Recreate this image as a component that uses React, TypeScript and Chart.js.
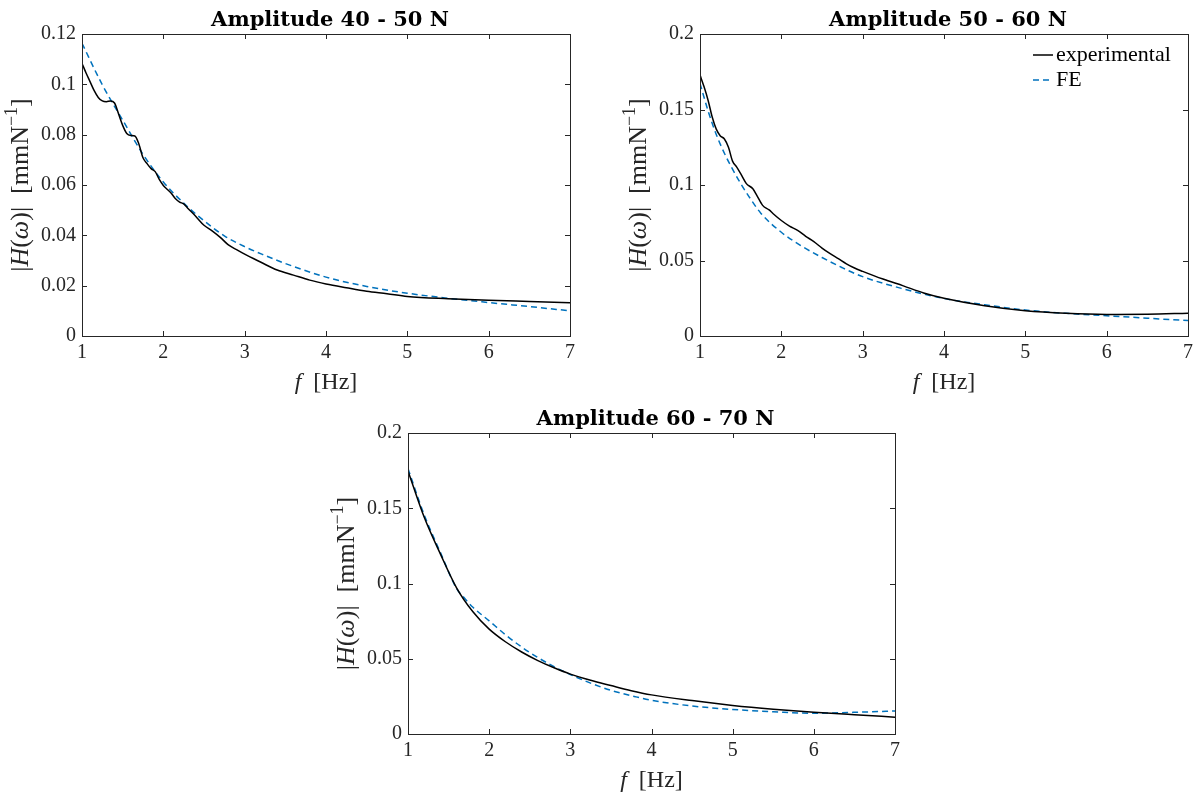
import React, { useEffect, useRef } from "react";
import { Chart, registerables } from "chart.js";

Chart.register(...registerables);

// ---------- tick values / labels ----------
const xTicks = [1, 2, 3, 4, 5, 6, 7];
const yTicksA = [0, 0.02, 0.04, 0.06, 0.08, 0.1, 0.12];
const yTicksB = [0, 0.05, 0.1, 0.15, 0.2];

const titles = ["Amplitude 40 - 50 N", "Amplitude 50 - 60 N", "Amplitude 60 - 70 N"];
const seriesNames = ["experimental", "FE"];

// ---------- panel 1 (40 - 50 N) ----------
const exp1F = [1.0, 1.05, 1.1, 1.15, 1.2, 1.25, 1.3, 1.35, 1.4, 1.45, 1.5, 1.55, 1.6, 1.65, 1.7, 1.75, 1.8, 1.85, 1.9, 1.95, 2.0, 2.05, 2.1, 2.15, 2.2, 2.25, 2.3, 2.4, 2.5, 2.6, 2.7, 2.8, 2.9, 3.0, 3.2, 3.4, 3.6, 3.8, 4.0, 4.25, 4.5, 4.75, 5.0, 5.5, 6.0, 6.5, 7.0];
const exp1H = [0.1083, 0.1045, 0.101, 0.0975, 0.0948, 0.0934, 0.0931, 0.0934, 0.0926, 0.0882, 0.0837, 0.0805, 0.0797, 0.0795, 0.0762, 0.0708, 0.0685, 0.0665, 0.0653, 0.0622, 0.0598, 0.0582, 0.0566, 0.0545, 0.0532, 0.0525, 0.0508, 0.0475, 0.044, 0.0418, 0.0392, 0.0362, 0.0343, 0.0325, 0.0293, 0.0262, 0.0242, 0.0222, 0.0207, 0.0192, 0.0178, 0.0168, 0.0157, 0.0148, 0.0142, 0.0137, 0.0132];
const fe1F = [1.0, 1.25, 1.5, 1.75, 2.0, 2.25, 2.5, 2.75, 3.0, 3.25, 3.5, 4.0, 4.5, 5.0, 5.5, 6.0, 6.5, 7.0];
const fe1H = [0.1163, 0.0998, 0.0858, 0.0722, 0.0612, 0.0528, 0.0458, 0.0398, 0.0355, 0.032, 0.0288, 0.0234, 0.0197, 0.017, 0.015, 0.0133, 0.0117, 0.01];

// ---------- panel 2 (50 - 60 N) ----------
const exp2F = [1.0, 1.05, 1.1, 1.15, 1.2, 1.25, 1.3, 1.35, 1.4, 1.45, 1.5, 1.57, 1.65, 1.7, 1.77, 1.85, 1.9, 2.0, 2.1, 2.2, 2.3, 2.4, 2.5, 2.6, 2.7, 2.8, 2.9, 3.0, 3.25, 3.5, 3.75, 4.0, 4.5, 5.0, 5.5, 6.0, 6.5, 7.0];
const exp2H = [0.1728, 0.165, 0.156, 0.145, 0.137, 0.1325, 0.1305, 0.125, 0.1158, 0.112, 0.1075, 0.1009, 0.0975, 0.093, 0.0865, 0.0835, 0.081, 0.0765, 0.0728, 0.07, 0.066, 0.0625, 0.0582, 0.0545, 0.0512, 0.0478, 0.045, 0.0428, 0.0377, 0.0332, 0.0285, 0.025, 0.02, 0.0167, 0.015, 0.0143, 0.0144, 0.0151];
const fe2F = [1.0, 1.1, 1.2, 1.3, 1.4, 1.5, 1.6, 1.75, 2.0, 2.25, 2.5, 2.75, 3.0, 3.5, 4.0, 4.5, 5.0, 5.5, 6.0, 6.5, 7.0];
const fe2H = [0.1673, 0.149, 0.1335, 0.121, 0.1105, 0.101, 0.0925, 0.0812, 0.0687, 0.0595, 0.052, 0.0452, 0.0393, 0.0312, 0.0248, 0.0207, 0.0172, 0.015, 0.0134, 0.0118, 0.0102];

// ---------- panel 3 (60 - 70 N) ----------
const exp3F = [1.0, 1.2, 1.4, 1.6, 1.8, 2.0, 2.2, 2.4, 2.6, 2.8, 3.0, 3.25, 3.5, 3.75, 4.0, 4.5, 5.0, 5.5, 6.0, 6.5, 7.0];
const exp3H = [0.1748, 0.144, 0.1195, 0.097, 0.0812, 0.0697, 0.0613, 0.0545, 0.0488, 0.044, 0.0398, 0.0357, 0.0322, 0.0288, 0.026, 0.0222, 0.019, 0.0165, 0.0145, 0.0128, 0.0112];
const fe3F = [1.0, 1.2, 1.4, 1.6, 1.7, 1.8, 2.0, 2.2, 2.4, 2.6, 2.8, 3.0, 3.25, 3.5, 3.8, 4.0, 4.5, 5.0, 5.5, 6.0, 6.5, 7.0];
const fe3H = [0.1764, 0.1455, 0.1205, 0.0965, 0.09, 0.0842, 0.0752, 0.066, 0.0578, 0.0508, 0.0447, 0.0395, 0.0338, 0.029, 0.0248, 0.0224, 0.0186, 0.0163, 0.0148, 0.0138, 0.0144, 0.0153];

// ---------- styling ----------
const AXIS_COLOR = "#262626";
const EXP_COLOR = "#000000";
const FE_COLOR = "#0072BD";
const XLABEL_SIZE = 24;
const YLABEL_SIZE = 26;
const TITLE_FONT = "bold 21px 'DejaVu Serif'";
const LEGEND_FONT = "22px 'Liberation Serif'";

type Part = { t: string; italic?: boolean; sup?: boolean };
const xLabelParts: Part[] = [{ t: "f", italic: true }, { t: "  [Hz]" }];
const yLabelParts: Part[] = [
  { t: "|" },
  { t: "H", italic: true },
  { t: "(" },
  { t: "ω", italic: true },
  { t: ")|" },
  { t: "  [mmN" },
  { t: "−1", sup: true },
  { t: "]" },
];

function partFont(p: Part, size: number) {
  const s = p.sup ? Math.round(size * 0.7) : size;
  return `${p.italic ? "italic " : ""}${s}px 'Liberation Serif'`;
}

function drawParts(ctx: CanvasRenderingContext2D, parts: Part[], cx: number, baseY: number, size: number) {
  let total = 0;
  const widths = parts.map((p) => {
    ctx.font = partFont(p, size);
    const w = ctx.measureText(p.t).width;
    total += w;
    return w;
  });
  let x = cx - total / 2;
  ctx.textAlign = "left";
  ctx.textBaseline = "alphabetic";
  parts.forEach((p, i) => {
    ctx.font = partFont(p, size);
    ctx.fillText(p.t, x, p.sup ? baseY - size * 0.42 : baseY);
    x += widths[i];
  });
}

type PanelCfg = {
  left: number;
  top: number;
  w: number;
  h: number;
  area: { l: number; t: number; r: number; b: number };
  title: string;
  yMax: number;
  yTicks: number[];
  expF: number[];
  expH: number[];
  feF: number[];
  feH: number[];
  legend: boolean;
};

const panels: PanelCfg[] = [
  { left: 0, top: 0, w: 600, h: 395, area: { l: 82, t: 34, r: 570, b: 336 }, title: titles[0], yMax: 0.12, yTicks: yTicksA, expF: exp1F, expH: exp1H, feF: fe1F, feH: fe1H, legend: false },
  { left: 600, top: 0, w: 599, h: 395, area: { l: 100, t: 34, r: 588, b: 336 }, title: titles[1], yMax: 0.2, yTicks: yTicksB, expF: exp2F, expH: exp2H, feF: fe2F, feH: fe2H, legend: true },
  { left: 300, top: 395, w: 620, h: 398, area: { l: 108, t: 38, r: 595, b: 339 }, title: titles[2], yMax: 0.2, yTicks: yTicksB, expF: exp3F, expH: exp3H, feF: fe3F, feH: fe3H, legend: false },
];

function fmt(v: number) {
  return String(Number(v.toFixed(4)));
}

function Panel({ cfg }: { cfg: PanelCfg }) {
  const ref = useRef<HTMLCanvasElement | null>(null);
  useEffect(() => {
    if (!ref.current) return;
    const a = cfg.area;
    const decor = {
      id: "decor",
      afterDraw(chart: any) {
        const ctx: CanvasRenderingContext2D = chart.ctx;
        const ca = chart.chartArea;
        const xs = chart.scales.x;
        const ys = chart.scales.y;
        ctx.save();
        ctx.strokeStyle = AXIS_COLOR;
        ctx.lineWidth = 1;
        ctx.setLineDash([]);
        ctx.strokeRect(ca.left + 0.5, ca.top + 0.5, ca.right - ca.left, ca.bottom - ca.top);
        const tl = 5;
        ctx.beginPath();
        xTicks.forEach((v) => {
          const px = Math.round(xs.getPixelForValue(v)) + 0.5;
          ctx.moveTo(px, ca.bottom);
          ctx.lineTo(px, ca.bottom - tl);
          ctx.moveTo(px, ca.top);
          ctx.lineTo(px, ca.top + tl);
        });
        cfg.yTicks.forEach((v) => {
          const py = Math.round(ys.getPixelForValue(v)) + 0.5;
          ctx.moveTo(ca.left, py);
          ctx.lineTo(ca.left + tl, py);
          ctx.moveTo(ca.right, py);
          ctx.lineTo(ca.right - tl, py);
        });
        ctx.stroke();

        ctx.fillStyle = "#000000";
        const cx = (ca.left + ca.right) / 2;
        // title
        ctx.font = TITLE_FONT;
        ctx.textAlign = "center";
        ctx.textBaseline = "alphabetic";
        ctx.fillText(cfg.title, cx + 4, ca.top - 8);
        // x label
        ctx.fillStyle = AXIS_COLOR;
        drawParts(ctx, xLabelParts, cx, ca.bottom + 53, XLABEL_SIZE);
        // y label
        ctx.save();
        ctx.translate(ca.left - 54, (ca.top + ca.bottom) / 2);
        ctx.rotate(-Math.PI / 2);
        drawParts(ctx, yLabelParts, 0, 0, YLABEL_SIZE);
        ctx.restore();

        if (cfg.legend) {
          const lx0 = ca.right - 155;
          const lx1 = lx0 + 20;
          const rows = [
            { y: ca.top + 21, color: EXP_COLOR, dash: [] as number[], name: seriesNames[0] },
            { y: ca.top + 46, color: FE_COLOR, dash: [6, 4], name: seriesNames[1] },
          ];
          rows.forEach((r) => {
            ctx.strokeStyle = r.color;
            ctx.lineWidth = 1.5;
            ctx.setLineDash(r.dash);
            ctx.beginPath();
            ctx.moveTo(lx0, r.y);
            ctx.lineTo(lx1, r.y);
            ctx.stroke();
            ctx.setLineDash([]);
            ctx.fillStyle = "#000000";
            ctx.font = LEGEND_FONT;
            ctx.textAlign = "left";
            ctx.textBaseline = "middle";
            ctx.fillText(r.name, lx1 + 3, r.y);
          });
        }
        ctx.restore();
      },
    };

    const chart = new Chart(ref.current, {
      type: "line",
      data: {
        datasets: [
          {
            label: seriesNames[0],
            data: cfg.expF.map((f, i) => ({ x: f, y: cfg.expH[i] })),
            borderColor: EXP_COLOR,
            borderWidth: 1.5,
            pointRadius: 0,
            cubicInterpolationMode: "monotone",
            fill: false,
          },
          {
            label: seriesNames[1],
            data: cfg.feF.map((f, i) => ({ x: f, y: cfg.feH[i] })),
            borderColor: FE_COLOR,
            borderWidth: 1.5,
            borderDash: [6, 4],
            pointRadius: 0,
            cubicInterpolationMode: "monotone",
            fill: false,
          },
        ],
      },
      options: {
        animation: false,
        responsive: false,
        devicePixelRatio: 1,
        events: [],
        layout: { padding: { left: 0, top: a.t, right: cfg.w - a.r, bottom: 0 } },
        plugins: { legend: { display: false }, title: { display: false }, tooltip: { enabled: false } },
        scales: {
          x: {
            type: "linear",
            min: 1,
            max: 7,
            grid: { display: false, drawTicks: false },
            border: { display: false },
            afterBuildTicks: (s: any) => {
              s.ticks = xTicks.map((v) => ({ value: v }));
            },
            afterFit: (s: any) => {
              s.height = cfg.h - a.b;
            },
            ticks: {
              autoSkip: false,
              maxRotation: 0,
              padding: 5,
              color: AXIS_COLOR,
              font: { family: "'Liberation Serif'", size: 20 },
              callback: (v: any) => fmt(Number(v)),
            },
          },
          y: {
            type: "linear",
            min: 0,
            max: cfg.yMax,
            grid: { display: false, drawTicks: false },
            border: { display: false },
            afterBuildTicks: (s: any) => {
              s.ticks = cfg.yTicks.map((v) => ({ value: v }));
            },
            afterFit: (s: any) => {
              s.width = a.l;
            },
            ticks: {
              autoSkip: false,
              padding: 6,
              color: AXIS_COLOR,
              font: { family: "'Liberation Serif'", size: 20 },
              callback: (v: any) => fmt(Number(v)),
            },
          },
        },
      } as any,
      plugins: [decor],
    });
    return () => chart.destroy();
  }, [cfg]);

  return (
    <canvas
      ref={ref}
      width={cfg.w}
      height={cfg.h}
      style={{ position: "absolute", left: cfg.left, top: cfg.top, width: cfg.w, height: cfg.h }}
    />
  );
}

export default function App() {
  return (
    <div style={{ position: "absolute", left: 0, top: 0, width: 1199, height: 793, background: "#ffffff", overflow: "hidden" }}>
      {panels.map((p, i) => (
        <Panel key={i} cfg={p} />
      ))}
    </div>
  );
}
